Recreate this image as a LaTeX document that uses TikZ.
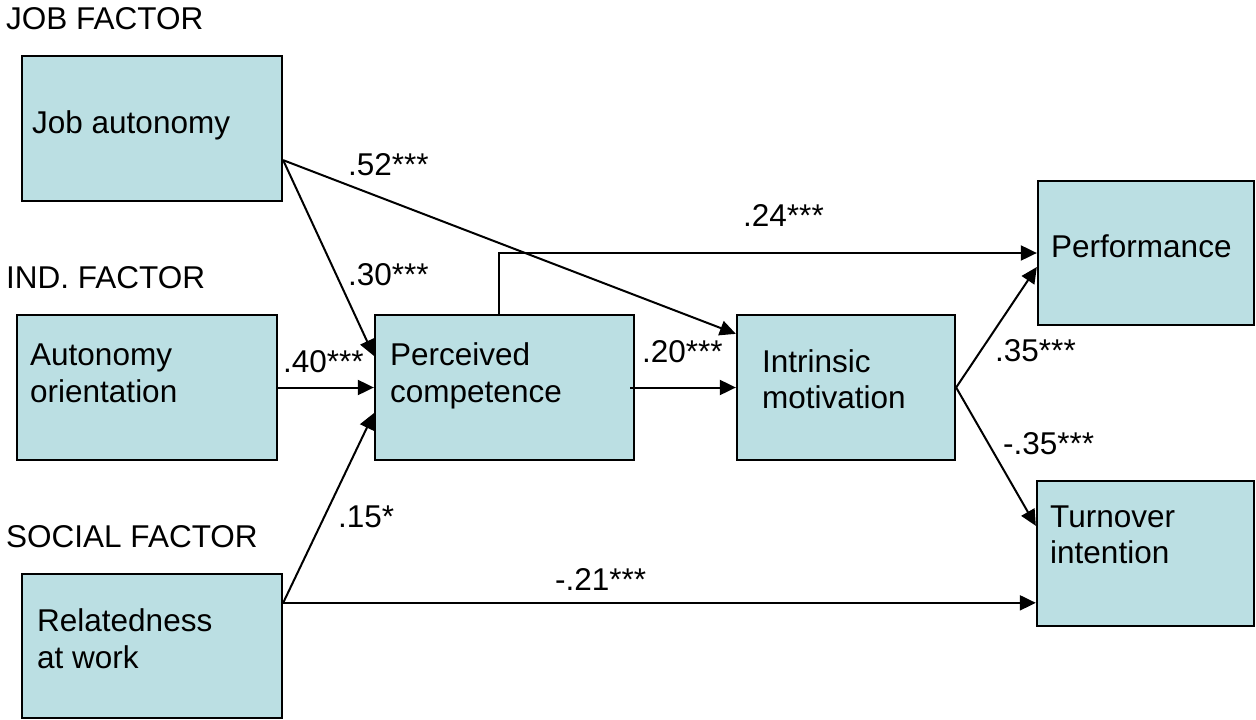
\documentclass[tikz,border=0pt]{standalone}
\usepackage{fontspec}
\setmainfont{Liberation Sans}
\usetikzlibrary{arrows.meta}
\definecolor{boxfill}{RGB}{187,223,227}
\tikzset{
  txt/.style={anchor=base west, inner sep=0pt, font=\fontsize{31.5}{37}\selectfont},
  factorbox/.style={draw=black, fill=boxfill, line width=2.3pt, rectangle, inner sep=0pt},
  path arrow/.style={line width=2pt, -{Triangle[length=16pt,width=15pt]}},
}
\begin{document}
\begin{tikzpicture}[x=1pt,y=-1pt]
\useasboundingbox (0,0) rectangle (1256,720);

% factor boxes
\node[factorbox, minimum width=260pt, minimum height=145pt] (ja) at (152,128.5) {};
\node[factorbox, minimum width=260pt, minimum height=145pt] (ao) at (147,387.5) {};
\node[factorbox, minimum width=260pt, minimum height=144pt] (rw) at (152,646) {};
\node[factorbox, minimum width=259pt, minimum height=145pt] (pc) at (504.5,387.5) {};
\node[factorbox, minimum width=218pt, minimum height=145pt] (im) at (846,387.5) {};
\node[factorbox, minimum width=216pt, minimum height=144pt] (pf) at (1146,253) {};
\node[factorbox, minimum width=217pt, minimum height=145pt] (ti) at (1145.5,553.5) {};

% group headings
\node[txt] (hjob) at (6,29) {JOB FACTOR};
\node[txt] (hind) at (6,288) {IND. FACTOR};
\node[txt] (hsoc) at (6,547) {SOCIAL FACTOR};

% box texts
\node[txt] (jaT) at (32,133) {Job autonomy};
\node[txt] (aoT1) at (30,365) {Autonomy};
\node[txt] (aoT2) at (30,402) {orientation};
\node[txt] (rwT1) at (37,631) {Relatedness};
\node[txt] (rwT2) at (37,668) {at work};
\node[txt] (pcT1) at (390,365) {Perceived};
\node[txt] (pcT2) at (390,402) {competence};
\node[txt] (imT1) at (762,372) {Intrinsic};
\node[txt] (imT2) at (762,408) {motivation};
\node[txt] (pfT) at (1051,257) {Performance};
\node[txt] (tiT1) at (1050,527) {Turnover};
\node[txt] (tiT2) at (1050,563) {intention};

% path endpoints on the box borders
\coordinate (jaOut) at ([yshift=42pt]ja.south east);
\coordinate (rwOut) at ([yshift=-30pt]rw.north east);
\coordinate (imOut) at (im.east);

% paths
\draw[path arrow] (jaOut) -- ([yshift=-42pt]pc.north west);
\draw[path arrow] (jaOut) -- ([yshift=-20pt]im.north west);
\draw[path arrow] (ao.east) -- (pc.west);
\draw[path arrow] (rwOut) -- ([yshift=48pt]pc.south west);
\draw[path arrow] (rwOut) -- (rwOut -| ti.west);
\draw[path arrow] ([xshift=-5.5pt]pc.north) |- (pf.west);
\draw[path arrow] ([xshift=-5pt]pc.east) -- (im.west);
\draw[path arrow] (imOut) -- ([yshift=-14pt]pf.west);
\draw[path arrow] (imOut) -- ([yshift=-46pt]ti.north west);

% path coefficients
\node[txt] (c52) at (348,175) {.52***};
\node[txt] (c30) at (348,285) {.30***};
\node[txt] (c40) at (283,372) {.40***};
\node[txt] (c15) at (338,527) {.15*};
\node[txt] (c21) at (555,590) {-.21***};
\node[txt] (c24) at (743,226) {.24***};
\node[txt] (c20) at (642,362) {.20***};
\node[txt] (c35a) at (995,361) {.35***};
\node[txt] (c35b) at (1003,454) {-.35***};
\end{tikzpicture}
\end{document}
